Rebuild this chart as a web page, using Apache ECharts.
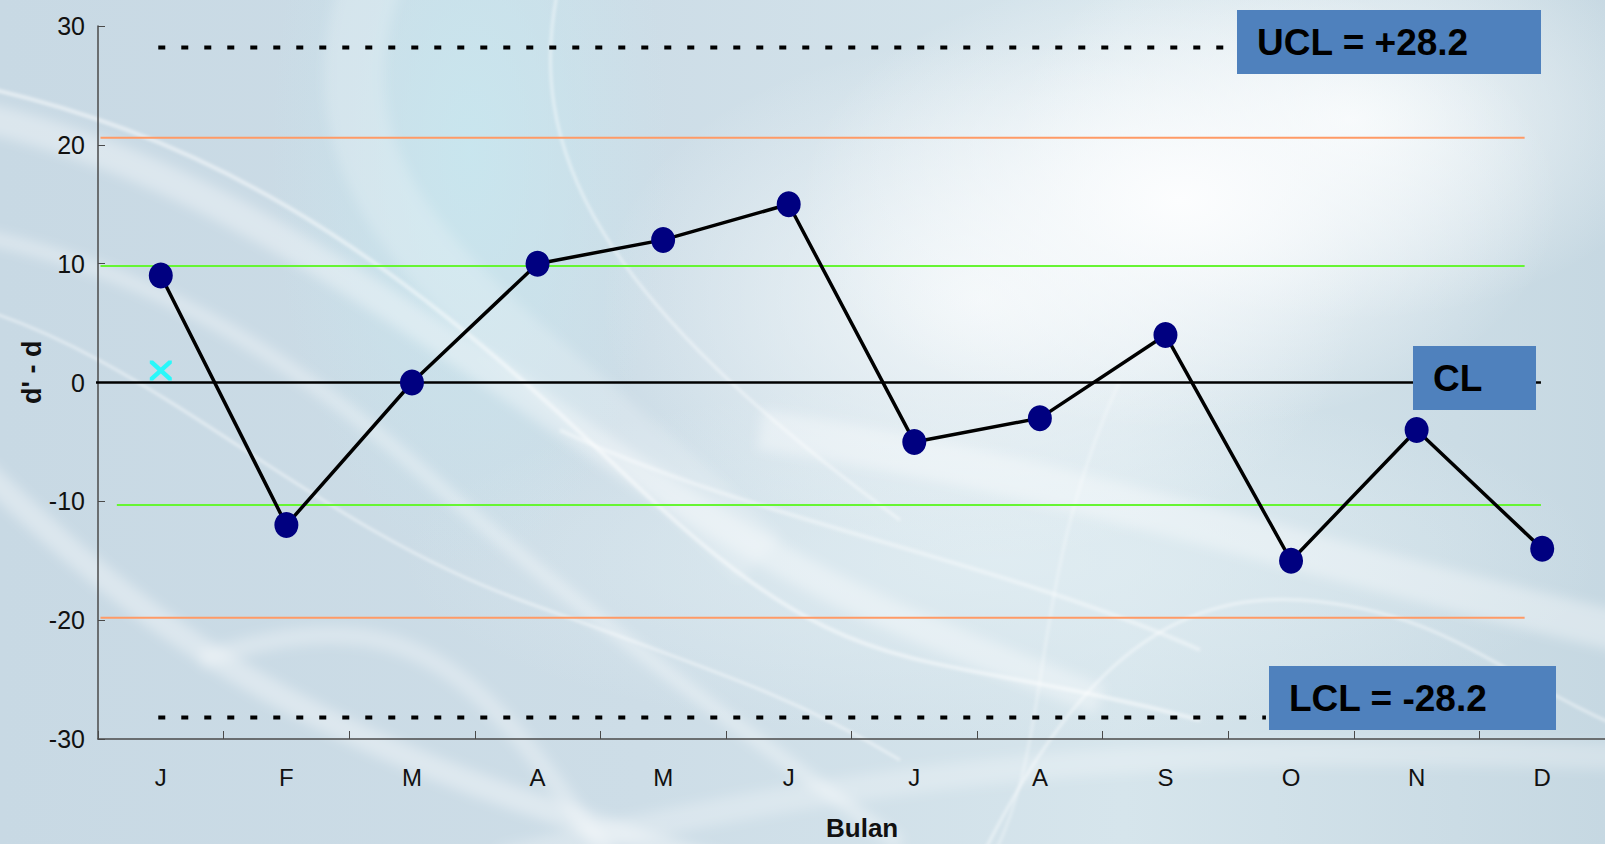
<!DOCTYPE html>
<html>
<head>
<meta charset="utf-8">
<script src="https://cdn.jsdelivr.net/npm/echarts@6/dist/echarts.min.js"></script>
<style>
html,body{margin:0;padding:0;width:1605px;height:844px;overflow:hidden;}
body{
  position:relative;
  background:
    radial-gradient(ellipse 380px 230px at 1180px 200px, rgba(252,253,254,1), rgba(252,253,254,0) 100%),
    radial-gradient(ellipse 330px 200px at 1350px 120px, rgba(248,251,252,0.9), rgba(248,251,252,0) 100%),
    radial-gradient(ellipse 380px 260px at 980px 300px, rgba(244,248,250,0.9), rgba(244,248,250,0) 100%),
    radial-gradient(ellipse 200px 420px at 470px 150px, rgba(200,232,240,0.8), rgba(200,232,240,0) 100%),
    radial-gradient(ellipse 600px 180px at 1000px 560px, rgba(226,238,243,0.8), rgba(226,238,243,0) 100%),
    linear-gradient(90deg, #c8d9e4 0%, #cddde7 40%, #d6e5ec 70%, #c6d8e2 100%);
}
#bg{position:absolute;left:0;top:0;width:1605px;height:844px;}
#chart{position:absolute;left:0;top:0;width:1605px;height:844px;}
</style>
</head>
<body>
<svg id="bg" width="1605" height="844" viewBox="0 0 1605 844" aria-hidden="true">
  <defs>
    <filter id="soft" x="-20%" y="-20%" width="140%" height="140%"><feGaussianBlur stdDeviation="6"/></filter>
    <filter id="soft2" x="-20%" y="-20%" width="140%" height="140%"><feGaussianBlur stdDeviation="1.5"/></filter>
  </defs>
  <g fill="none" stroke="#ffffff" filter="url(#soft)">
    <path d="M-50,110 C150,150 300,240 560,420 S900,620 1100,700" stroke-width="30" stroke-opacity="0.35"/>
    <path d="M-50,230 C120,260 260,330 420,470 S700,700 900,844" stroke-width="14" stroke-opacity="0.35"/>
    <path d="M380,-40 C300,150 420,260 560,380 S700,500 760,560" stroke-width="60" stroke-opacity="0.2"/>
    <path d="M-50,440 C80,560 200,690 520,800 S800,880 900,900" stroke-width="24" stroke-opacity="0.35"/>
    <path d="M200,660 C380,600 460,650 560,790 S650,900 700,900" stroke-width="18" stroke-opacity="0.3"/>
    <path d="M760,430 C1050,470 1300,560 1700,650" stroke-width="40" stroke-opacity="0.35"/>
    <path d="M500,860 C900,760 1200,740 1700,760" stroke-width="26" stroke-opacity="0.25"/>
  </g>
  <g fill="none" stroke="#ffffff" filter="url(#soft2)">
    <path d="M-50,80 C200,130 380,240 620,470 S900,640 1200,720" stroke-width="4" stroke-opacity="0.5"/>
    <path d="M-50,300 C150,350 300,520 520,600 S800,700 900,760" stroke-width="3" stroke-opacity="0.45"/>
    <path d="M560,-20 C520,150 600,300 900,520" stroke-width="3" stroke-opacity="0.45"/>
    <path d="M560,430 C750,520 1000,560 1200,650" stroke-width="4" stroke-opacity="0.4"/>
    <path d="M980,860 C1060,700 1150,590 1300,600 S1500,680 1650,740" stroke-width="3" stroke-opacity="0.45"/>
    <path d="M1120,380 C1020,600 1060,750 980,880" stroke-width="3" stroke-opacity="0.3"/>
  </g>
</svg>
<div id="chart"></div>
<script>
// ---- data ----
const months = ['J','F','M','A','M','J','J','A','S','O','N','D'];
const values = [9, -12, 0, 10, 12, 15, -5, -3, 4, -15, -4, -14];
const crossValue = [1];               // cyan "x" marker at first month
const yTickValues = [-30, -20, -10, 0, 10, 20, 30];
const UCL = 28.2;
const LCL = -28.2;
const CL = 0;
const outerLimits = [20.6, -19.8];    // orange lines
const innerLimits = [9.8, -10.3];     // green lines
const labelUCL = 'UCL = +28.2';
const labelCL = 'CL';
const labelLCL = 'LCL = -28.2';
const xTitle = 'Bulan';
const yTitle = "d' - d";

const FONT = '"Liberation Sans", Arial, sans-serif';

function hLine(level, x0, x1, style, z) {
  return {
    type: 'line', xAxisIndex: 1, yAxisIndex: 0,
    data: [[x0, level], [x1, level]],
    symbol: 'none', silent: true, clip: false,
    lineStyle: style, z: z, animation: false
  };
}

const chart = echarts.init(document.getElementById('chart'), null, {renderer: 'svg'});
const option = {
  animation: false,
  backgroundColor: 'transparent',
  grid: {left: 98, top: 26, right: 0, bottom: 105, containLabel: false},
  xAxis: [{
    type: 'category', data: months, boundaryGap: true,
    axisLine: {show: true, onZero: false, lineStyle: {color: '#4a4a4a', width: 1.5}},
    axisTick: {show: true, inside: true, length: 8, lineStyle: {color: '#4a4a4a', width: 1}},
    axisLabel: {color: '#111', fontFamily: FONT, fontSize: 24, margin: 26},
    splitLine: {show: false}
  }, {
    type: 'value', min: 0, max: 12, show: false
  }],
  yAxis: [{
    type: 'value', min: yTickValues[0], max: yTickValues[yTickValues.length - 1], interval: 10,
    axisLine: {show: true, onZero: false, lineStyle: {color: '#4a4a4a', width: 1.5}},
    axisTick: {show: true, inside: true, length: 7, lineStyle: {color: '#4a4a4a', width: 1}},
    axisLabel: {color: '#111', fontFamily: FONT, fontSize: 25, margin: 13},
    splitLine: {show: false}
  }],
  graphic: [
    {type: 'text', left: 866 - 40, top: 815, style: {text: xTitle, font: 'bold 26px ' + FONT, fill: '#111'}},
    {type: 'text', x: 18, y: 404, rotation: Math.PI / 2, style: {text: yTitle, font: 'bold 27px ' + FONT, fill: '#111'}},
    {type: 'rect', z: 100, shape: {x: 1237, y: 10, width: 304, height: 64}, style: {fill: '#4f81bd'}},
    {type: 'text', z: 101, x: 1257, y: 42, style: {text: labelUCL, font: 'bold 37px ' + FONT, fill: '#000', textVerticalAlign: 'middle', verticalAlign: 'middle'}},
    {type: 'rect', z: 100, shape: {x: 1413, y: 346, width: 123, height: 64}, style: {fill: '#4f81bd'}},
    {type: 'text', z: 101, x: 1433, y: 378, style: {text: labelCL, font: 'bold 37px ' + FONT, fill: '#000', textVerticalAlign: 'middle', verticalAlign: 'middle'}},
    {type: 'rect', z: 100, shape: {x: 1269, y: 666, width: 287, height: 64}, style: {fill: '#4f81bd'}},
    {type: 'text', z: 101, x: 1289, y: 698, style: {text: labelLCL, font: 'bold 37px ' + FONT, fill: '#000', textVerticalAlign: 'middle', verticalAlign: 'middle'}}
  ],
  series: [
    hLine(UCL, 0.48, 9.1, {color: '#000', width: 4, type: [7, 16], cap: 'butt'}, 2),
    hLine(LCL, 0.48, 9.3, {color: '#000', width: 4, type: [7, 16], cap: 'butt'}, 2),
    hLine(outerLimits[0], 0.02, 11.36, {color: '#ff9a66', width: 2}, 2),
    hLine(outerLimits[1], 0.02, 11.36, {color: '#ff9a66', width: 2}, 2),
    hLine(innerLimits[0], 0.02, 11.36, {color: '#66f533', width: 2}, 2),
    hLine(innerLimits[1], 0.15, 11.49, {color: '#66f533', width: 2}, 2),
    hLine(CL, -0.04, 11.49, {color: '#000', width: 2.5}, 3),
    {
      type: 'line', xAxisIndex: 0, yAxisIndex: 0, data: values,
      symbol: 'circle', symbolSize: [24, 26],
      itemStyle: {color: '#000080'},
      lineStyle: {color: '#000', width: 3.5},
      z: 10
    },
    {
      type: 'scatter', xAxisIndex: 0, yAxisIndex: 0, data: crossValue,
      symbol: 'path://M0,0 L3,0 L10,7 L17,0 L20,0 L20,3 L13,10 L20,17 L20,20 L17,20 L10,13 L3,20 L0,20 L0,17 L7,10 L0,3 Z',
      symbolSize: [22, 20],
      itemStyle: {color: '#00ffff'},
      z: 11
    }
  ]
};
chart.setOption(option);
</script>
</body>
</html>
